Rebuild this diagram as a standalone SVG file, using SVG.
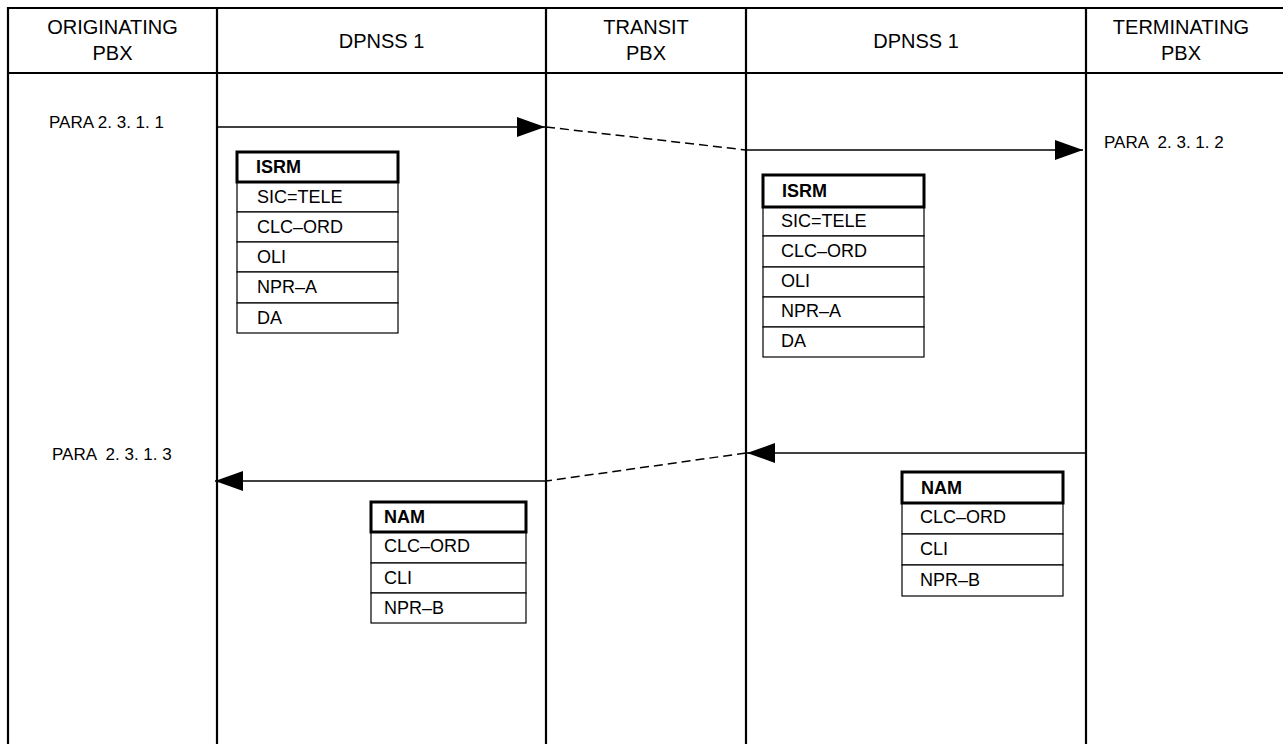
<svg xmlns="http://www.w3.org/2000/svg" width="1283" height="744" viewBox="0 0 1283 744">
<style>
  text { font-family: "Liberation Sans", Arial, sans-serif; fill: #000; white-space: pre; }
  .hdr { font-size: 20px; text-anchor: middle; }
  .para { font-size: 17px; }
  .cell { font-size: 18px; }
  .bold { font-size: 18px; font-weight: bold; }
  .frame { stroke: #000; stroke-width: 2.2; fill: none; }
  .row { stroke: #000; stroke-width: 1.2; fill: #fff; }
  .head { stroke: #000; stroke-width: 3; fill: #fff; }
  .msg { stroke: #000; stroke-width: 1.5; fill: none; }
  .dash { stroke: #000; stroke-width: 1.5; fill: none; stroke-dasharray: 9 5; }
</style>
<defs>
  <marker id="ah" viewBox="0 0 28 20" refX="28" refY="10" markerWidth="28" markerHeight="20" markerUnits="userSpaceOnUse" orient="auto">
    <path d="M0,0 L28,10 L0,20 Z" fill="#000"/>
  </marker>
</defs>
<rect width="1283" height="744" fill="#fff"/>

<g id="frame">
  <line class="frame" x1="8" y1="8" x2="1283" y2="8"/>
  <line class="frame" x1="8" y1="73" x2="1283" y2="73"/>
  <line class="frame" x1="8" y1="7" x2="8" y2="744"/>
  <line class="frame" x1="217" y1="7" x2="217" y2="744"/>
  <line class="frame" x1="546" y1="7" x2="546" y2="744"/>
  <line class="frame" x1="746" y1="7" x2="746" y2="744"/>
  <line class="frame" x1="1086" y1="7" x2="1086" y2="744"/>
</g>

<g id="headers">
  <text class="hdr" x="112.5" y="34">ORIGINATING</text>
  <text class="hdr" x="112.5" y="60">PBX</text>
  <text class="hdr" x="381.5" y="48">DPNSS 1</text>
  <text class="hdr" x="646" y="34">TRANSIT</text>
  <text class="hdr" x="646" y="60">PBX</text>
  <text class="hdr" x="916" y="48">DPNSS 1</text>
  <text class="hdr" x="1181" y="34">TERMINATING</text>
  <text class="hdr" x="1181" y="60">PBX</text>
</g>

<g id="labels">
  <text class="para" x="49" y="128">PARA 2. 3. 1. 1</text>
  <text class="para" x="1104" y="148">PARA  2. 3. 1. 2</text>
  <text class="para" x="52" y="460">PARA  2. 3. 1. 3</text>
</g>

<g id="connectors">
  <line class="msg" x1="217" y1="127" x2="545" y2="127" marker-end="url(#ah)"/>
  <line class="dash" x1="546" y1="127" x2="746" y2="150"/>
  <line class="msg" x1="746" y1="150" x2="1083" y2="150" marker-end="url(#ah)"/>
  <line class="msg" x1="1086" y1="453" x2="747" y2="453" marker-end="url(#ah)"/>
  <line class="dash" x1="746" y1="453" x2="546" y2="481"/>
  <line class="msg" x1="546" y1="481" x2="215" y2="481" marker-end="url(#ah)"/>
</g>

<g id="isrm1">
  <rect class="row" x="237" y="182" width="161" height="30"/>
  <rect class="row" x="237" y="212" width="161" height="30"/>
  <rect class="row" x="237" y="242" width="161" height="30"/>
  <rect class="row" x="237" y="272" width="161" height="31"/>
  <rect class="row" x="237" y="303" width="161" height="30"/>
  <rect class="head" x="237" y="152" width="161" height="30"/>
  <text class="bold" x="256" y="173">ISRM</text>
  <text class="cell" x="257" y="203">SIC=TELE</text>
  <text class="cell" x="257" y="233">CLC–ORD</text>
  <text class="cell" x="257" y="263">OLI</text>
  <text class="cell" x="257" y="293">NPR–A</text>
  <text class="cell" x="257" y="324">DA</text>
</g>

<g id="isrm2">
  <rect class="row" x="763" y="207" width="161" height="29"/>
  <rect class="row" x="763" y="236" width="161" height="31"/>
  <rect class="row" x="763" y="267" width="161" height="30"/>
  <rect class="row" x="763" y="297" width="161" height="30"/>
  <rect class="row" x="763" y="327" width="161" height="30"/>
  <rect class="head" x="763" y="175" width="161" height="32"/>
  <text class="bold" x="782" y="197">ISRM</text>
  <text class="cell" x="781" y="227">SIC=TELE</text>
  <text class="cell" x="781" y="257">CLC–ORD</text>
  <text class="cell" x="781" y="287">OLI</text>
  <text class="cell" x="781" y="317">NPR–A</text>
  <text class="cell" x="781" y="347">DA</text>
</g>

<g id="nam1">
  <rect class="row" x="371" y="532" width="155" height="31"/>
  <rect class="row" x="371" y="563" width="155" height="30"/>
  <rect class="row" x="371" y="593" width="155" height="30"/>
  <rect class="head" x="371" y="502" width="155" height="30"/>
  <text class="bold" x="384" y="523">NAM</text>
  <text class="cell" x="384" y="552">CLC–ORD</text>
  <text class="cell" x="384" y="584">CLI</text>
  <text class="cell" x="384" y="614">NPR–B</text>
</g>

<g id="nam2">
  <rect class="row" x="902" y="503" width="161" height="31"/>
  <rect class="row" x="902" y="534" width="161" height="31"/>
  <rect class="row" x="902" y="565" width="161" height="31"/>
  <rect class="head" x="902" y="472" width="161" height="31"/>
  <text class="bold" x="921" y="494">NAM</text>
  <text class="cell" x="920" y="523">CLC–ORD</text>
  <text class="cell" x="920" y="555">CLI</text>
  <text class="cell" x="920" y="586">NPR–B</text>
</g>
</svg>
